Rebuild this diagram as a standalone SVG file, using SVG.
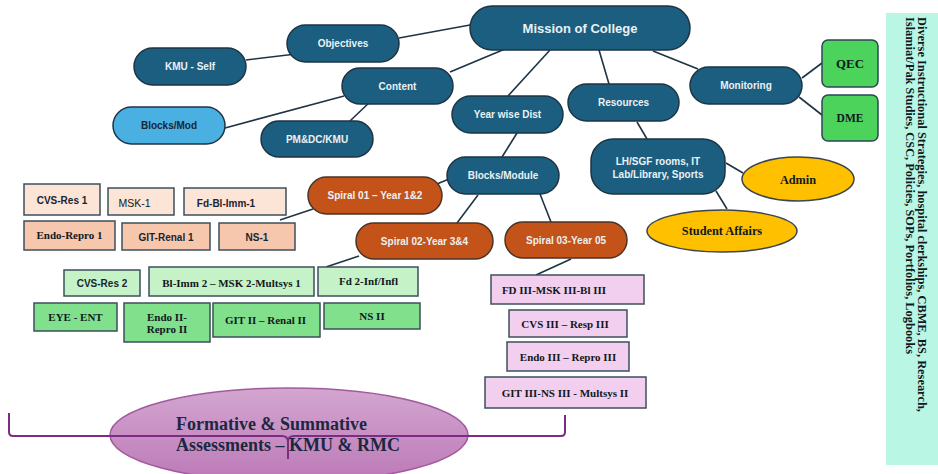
<svg xmlns="http://www.w3.org/2000/svg" width="938" height="474" viewBox="0 0 938 474">
<defs>
<linearGradient id="pg" x1="0" y1="0" x2="0" y2="1">
<stop offset="0" stop-color="#D3A6D0"/>
<stop offset="1" stop-color="#BC79B7"/>
</linearGradient>
</defs>
<style>
.dk{fill:#1B5E7F;stroke:#1E3444;stroke-width:1.5}
.or{fill:#C4531A;stroke:#4A3328;stroke-width:1.5}
.lb{fill:#4AB0E2;stroke:#1E3444;stroke-width:1.5}
.gr{fill:#4CD35C;stroke:#2E4656;stroke-width:1.5}
.au{fill:#FFC000;stroke:#3A4550;stroke-width:1.5}
.bx{stroke:#3C4F5C;stroke-width:1.5}
.p1{fill:#FCE4D7}.p2{fill:#F6C7AC}.g1{fill:#C6F2C8}.g2{fill:#80E08C}.pk{fill:#F2CFEF}
.wt{font-family:"Liberation Sans",Arial,sans-serif;font-weight:bold;font-size:10px;fill:#EAF1F5;text-anchor:middle;dominant-baseline:central}
.sb{font-family:"Liberation Sans",Arial,sans-serif;font-weight:bold;font-size:10px;fill:#1A2530;text-anchor:middle;dominant-baseline:central}
.sr{font-family:"Liberation Serif","Times New Roman",serif;font-weight:bold;font-size:11px;fill:#111820;text-anchor:middle;dominant-baseline:central}
.big{font-size:12.3px}
.cn{fill:none;stroke:#1E3444;stroke-width:1.6}
</style>
<rect x="886" y="13" width="52" height="452" fill="#BAF6E4"/>
<g id="side-text" font-family="'Liberation Serif','Times New Roman',serif" font-weight="bold" font-size="12.4" fill="#111820">
<text transform="translate(921.5,17) rotate(90)" dominant-baseline="central">Diverse Instructional Strategies, hospital clerkships, CBME, BS, Research,</text>
<text transform="translate(910,17) rotate(90)" dominant-baseline="central">Islamiat/Pak Studies, CSC, Policies, SOPs, Portfolios, Logbooks</text>
</g>
<g id="connectors" class="cn">
<line x1="470" y1="25" x2="399" y2="38"/>
<line x1="450" y1="72" x2="505" y2="49"/>
<line x1="550" y1="50" x2="508" y2="96"/>
<line x1="599" y1="50" x2="609" y2="84"/>
<line x1="653" y1="51" x2="698" y2="69"/>
<line x1="802" y1="78" x2="822" y2="63"/>
<line x1="799" y1="97" x2="822" y2="115"/>
<line x1="246" y1="60" x2="296" y2="54"/>
<line x1="225" y1="128" x2="344" y2="96"/>
<line x1="373" y1="99" x2="350" y2="121"/>
<line x1="637" y1="122" x2="647" y2="139"/>
<line x1="517" y1="133" x2="502" y2="157"/>
<line x1="726" y1="163" x2="743" y2="173"/>
<line x1="716" y1="191" x2="727" y2="209"/>
<line x1="437" y1="184" x2="449" y2="179"/>
<line x1="478" y1="195" x2="457" y2="223"/>
<line x1="540" y1="194" x2="551" y2="222"/>
<line x1="313" y1="209" x2="280" y2="220"/>
<line x1="359" y1="256" x2="326" y2="267"/>
<line x1="571" y1="259" x2="536" y2="275"/>
</g>
<g id="mission"><rect class="dk" x="470" y="6" width="220" height="44" rx="22"/><text class="wt" x="580" y="28" style="font-size:13px">Mission of College</text></g>
<g id="objectives"><rect class="dk" x="287" y="25" width="112" height="37" rx="18.5"/><text class="wt" x="343" y="43.5">Objectives</text></g>
<g id="kmu-self"><rect class="dk" x="134" y="48" width="112" height="37" rx="18.5"/><text class="wt" x="190" y="66.5">KMU - Self</text></g>
<g id="content"><rect class="dk" x="342" y="68" width="111" height="36" rx="18"/><text class="wt" x="397.5" y="86">Content</text></g>
<g id="blocks-mod"><rect class="lb" x="113" y="107" width="112" height="37" rx="18.5"/><text class="sb" x="169" y="125.5">Blocks/Mod</text></g>
<g id="pmdc"><rect class="dk" x="261" y="121" width="112" height="36" rx="18"/><text class="wt" x="317" y="139">PM&amp;DC/KMU</text></g>
<g id="year-wise"><rect class="dk" x="452" y="96" width="111" height="37" rx="18.5"/><text class="wt" x="507.5" y="114.5">Year wise Dist</text></g>
<g id="resources"><rect class="dk" x="568" y="84" width="111" height="37" rx="18.5"/><text class="wt" x="623.5" y="102.5">Resources</text></g>
<g id="monitoring"><rect class="dk" x="690" y="67" width="112" height="37" rx="18.5"/><text class="wt" x="746" y="85.5">Monitoring</text></g>
<g id="qec"><rect class="gr" x="822" y="40" width="56" height="47" rx="6"/><text class="sr" x="850" y="64" style="font-size:12.9px">QEC</text></g>
<g id="dme"><rect class="gr" x="822" y="95" width="56" height="46" rx="6"/><text class="sr" x="850" y="118" style="font-size:11.5px">DME</text></g>
<g id="lh-sgf"><rect class="dk" x="591" y="139" width="134" height="55" rx="22"/><text class="wt" x="658" y="161">LH/SGF rooms, IT</text><text class="wt" x="658" y="174">Lab/Library, Sports</text></g>
<g id="admin"><ellipse class="au" cx="798" cy="179" rx="56" ry="22"/><text class="sr big" x="798" y="180">Admin</text></g>
<g id="student-affairs"><ellipse class="au" cx="722" cy="231" rx="75" ry="21"/><text class="sr big" x="722" y="231">Student Affairs</text></g>
<g id="blocks-module"><rect class="dk" x="447" y="157" width="112" height="37" rx="18.5"/><text class="wt" x="503" y="175.5">Blocks/Module</text></g>
<g id="spiral-01"><rect class="or" x="308" y="177" width="134" height="37" rx="18.5"/><text class="wt" x="375" y="195">Spiral 01 – Year 1&amp;2</text></g>
<g id="spiral-02"><rect class="or" x="356" y="223" width="137" height="36" rx="18"/><text class="wt" x="424.5" y="241">Spiral 02-Year 3&amp;4</text></g>
<g id="spiral-03"><rect class="or" x="505" y="222" width="122" height="36" rx="18"/><text class="wt" x="566" y="240">Spiral 03-Year 05</text></g>
<g id="cvs-res-1"><rect class="bx p1" x="24" y="184" width="76" height="31"/><text class="sb" x="62" y="200.5">CVS-Res 1</text></g>
<g id="msk-1"><rect class="bx p1" x="108" y="188" width="66" height="27"/><text class="sb" x="134.5" y="203" style="font-weight:normal;font-size:10.5px;fill:#0F1820">MSK-1</text></g>
<g id="fd-bl-imm-1"><rect class="bx p1" x="184" y="188" width="102" height="27"/><text class="sb" x="226" y="203">Fd-Bl-Imm-1</text></g>
<g id="endo-repro-1"><rect class="bx p2" x="24" y="221" width="91" height="29"/><text class="sr" x="69.5" y="235">Endo-Repro 1</text></g>
<g id="git-renal-1"><rect class="bx p2" x="122" y="223" width="88" height="27"/><text class="sb" x="166" y="237">GIT-Renal 1</text></g>
<g id="ns-1"><rect class="bx p2" x="219" y="223" width="76" height="27"/><text class="sb" x="257" y="237">NS-1</text></g>
<g id="cvs-res-2"><rect class="bx g1" x="64" y="270" width="76" height="26"/><text class="sb" x="102" y="283">CVS-Res 2</text></g>
<g id="bl-imm-2"><rect class="bx g1" x="149" y="267" width="165" height="29"/><text class="sr" x="231.5" y="283">Bl-Imm 2 – MSK 2-Multsys 1</text></g>
<g id="fd-2"><rect class="bx g1" x="318" y="267" width="100" height="29"/><text class="sr" x="368.5" y="281">Fd 2-Inf/Infl</text></g>
<g id="eye-ent"><rect class="bx g2" x="34" y="303" width="83" height="28"/><text class="sr" x="75.5" y="317">EYE - ENT</text></g>
<g id="endo-ii"><rect class="bx g2" x="124" y="303" width="86" height="39"/><text class="sr" x="167" y="316.5">Endo II-</text><text class="sr" x="167" y="328.5">Repro II</text></g>
<g id="git-ii"><rect class="bx g2" x="213" y="303" width="107" height="34"/><text class="sr" x="265.5" y="320">GIT II – Renal II</text></g>
<g id="ns-ii"><rect class="bx g2" x="324" y="303" width="96" height="26"/><text class="sr" x="372" y="316">NS II</text></g>
<g id="fd-iii"><rect class="bx pk" x="491" y="275" width="153" height="29"/><text class="sr" x="554" y="290">FD III-MSK III-Bl III</text></g>
<g id="cvs-iii"><rect class="bx pk" x="509" y="310" width="118" height="27"/><text class="sr" x="565" y="324">CVS III – Resp III</text></g>
<g id="endo-iii"><rect class="bx pk" x="507" y="342" width="122" height="29"/><text class="sr" x="568" y="357">Endo III – Repro III</text></g>
<g id="git-iii"><rect class="bx pk" x="485" y="377" width="161" height="31"/><text class="sr" x="565" y="392.5">GIT III-NS III - Multsys II</text></g>
<g id="assessments">
<ellipse cx="289" cy="435" rx="179" ry="47" fill="url(#pg)" stroke="#A25A9E" stroke-width="1.5"/>
<path d="M9,413 V432 Q9,436 13,436 H282 Q288,436 288,442 V459 M288,442 Q288,436 294,436 H561 Q565,436 565,432 V415" fill="none" stroke="#7E2C82" stroke-width="2"/>
<g font-family="'Liberation Serif','Times New Roman',serif" font-weight="bold" font-size="18" fill="#1C2740">
<text x="176" y="430">Formative &amp; Summative</text>
<text x="176" y="451">Assessments – KMU &amp; RMC</text>
</g>
</g>
</svg>
